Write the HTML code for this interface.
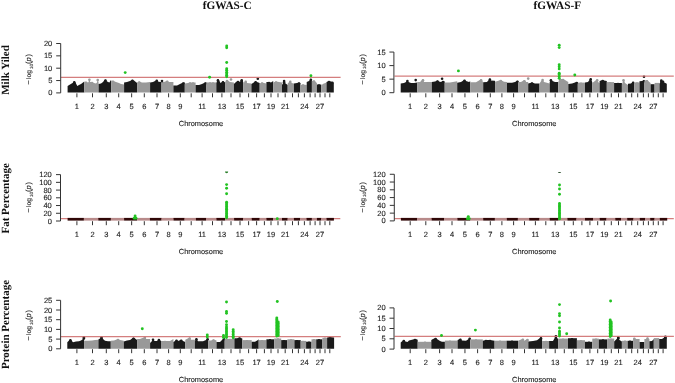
<!DOCTYPE html>
<html><head><meta charset="utf-8"><style>
html,body{margin:0;padding:0;background:#fff;width:675px;height:383px;overflow:hidden}
svg{display:block;will-change:transform;text-rendering:geometricPrecision}
.ti{font-family:"Liberation Serif",serif;font-weight:bold;font-size:11px;fill:#111}
.tt{font-family:"Liberation Serif",serif;font-weight:bold;font-size:11.3px;fill:#111}
.tk{font-family:"Liberation Sans",sans-serif;font-size:7.5px;fill:#1a1a1a;stroke:#222;stroke-width:0.12px}
.ch{font-family:"Liberation Sans",sans-serif;font-size:7.4px;fill:#1a1a1a;stroke:#222;stroke-width:0.12px}
.yl{font-family:"Liberation Sans",sans-serif;font-size:6.7px;fill:#222;stroke:#222;stroke-width:0.1px}
.sub{font-size:4.6px}
</style></head><body>
<svg width="675" height="383" viewBox="0 0 675 383">
<text x="227.3" y="8.8" text-anchor="middle" class="tt">fGWAS-C</text>
<text x="557.3" y="8.8" text-anchor="middle" class="tt">fGWAS-F</text>
<text transform="translate(8.9,70) rotate(-90)" text-anchor="middle" class="ti">Milk Yiled</text>
<text transform="translate(8.9,198.4) rotate(-90)" text-anchor="middle" class="ti">Fat Percentage</text>
<text transform="translate(8.9,324.5) rotate(-90)" text-anchor="middle" class="ti">Protein Percentage</text>
<polygon fill="#1a1a1a" points="67.6,92.6 67.6,86 70,84.5 72.5,83 74.3,81.3 75.5,82.5 77.3,86 79,85 81,84 83,82.5 84.3,81.5 84.3,92.6"/>
<circle cx="74.3" cy="82.4" r="1.3" fill="#1a1a1a"/>
<polygon fill="#999999" points="84.3,92.6 84.3,82 86,81.8 88,82.5 88.6,82 89.4,78.6 90.2,82 92,82 94,83 96,83.5 97,82.5 97.7,79 98.4,82 98.6,82.5 98.6,92.6"/>
<circle cx="86" cy="82.9" r="1.3" fill="#999999"/>
<circle cx="89.4" cy="79.7" r="1.3" fill="#999999"/>
<circle cx="92" cy="83.1" r="1.3" fill="#999999"/>
<circle cx="97.7" cy="80.1" r="1.3" fill="#999999"/>
<polygon fill="#1a1a1a" points="98.6,92.6 98.6,84 101,83.4 103,82 104.5,80 105.5,79.5 106.5,81 108,82 109.5,82.5 110.5,80.5 111.2,80.3 111.2,92.6"/>
<circle cx="105.5" cy="80.6" r="1.3" fill="#1a1a1a"/>
<polygon fill="#999999" points="111.2,92.6 111.2,81 113,80.8 116,82 119,83 121,84 124.1,84.4 124.1,92.6"/>
<circle cx="113" cy="81.9" r="1.3" fill="#999999"/>
<polygon fill="#1a1a1a" points="124.1,92.6 124.1,82.4 127,82 130,81 132.4,79.8 134,80.5 137.1,82.9 137.1,92.6"/>
<circle cx="132.4" cy="80.9" r="1.3" fill="#1a1a1a"/>
<polygon fill="#999999" points="137.1,92.6 137.1,82.4 139.2,81.5 142,82.5 146,82.5 150.1,82 150.1,92.6"/>
<circle cx="139.2" cy="82.6" r="1.3" fill="#999999"/>
<polygon fill="#1a1a1a" points="150.1,92.6 150.1,82.4 153,82 155,81 156.8,79.8 158,81.5 160,82 161.5,82 161.5,92.6"/>
<circle cx="156.8" cy="80.9" r="1.3" fill="#1a1a1a"/>
<polygon fill="#999999" points="161.5,92.6 161.5,82 164,81.9 167.2,80.8 169,82 173.4,82 173.4,92.6"/>
<circle cx="167.2" cy="81.9" r="1.3" fill="#999999"/>
<polygon fill="#1a1a1a" points="173.4,92.6 173.4,85.5 177,85.5 180,84 182,83 183.3,82.4 184.8,82.5 184.8,92.6"/>
<circle cx="183.3" cy="83.5" r="1.3" fill="#1a1a1a"/>
<polygon fill="#999999" points="184.8,92.6 184.8,83.4 188,83 190,82.4 193,82.4 195.6,82.4 195.6,92.6"/>
<circle cx="190" cy="83.5" r="1.3" fill="#999999"/>
<circle cx="193" cy="83.5" r="1.3" fill="#999999"/>
<polygon fill="#1a1a1a" points="195.6,92.6 195.6,85 199,85 202,84 204,83 205.4,82.4 206.4,82.4 206.4,92.6"/>
<circle cx="205.4" cy="83.5" r="1.3" fill="#1a1a1a"/>
<polygon fill="#999999" points="206.4,92.6 206.4,82.4 210,82.4 213,82.4 216.3,82.4 216.3,92.6"/>
<circle cx="210" cy="83.5" r="1.3" fill="#999999"/>
<circle cx="213" cy="83.5" r="1.3" fill="#999999"/>
<polygon fill="#1a1a1a" points="216.3,92.6 216.3,83 217.9,79.3 219,80 220.5,83 222,82 223,81.3 225.1,82.5 225.1,92.6"/>
<circle cx="217.9" cy="80.4" r="1.3" fill="#1a1a1a"/>
<circle cx="223" cy="82.4" r="1.3" fill="#1a1a1a"/>
<polygon fill="#999999" points="225.1,92.6 225.1,82 227,80 230,82 233.9,82.5 233.9,92.6"/>
<circle cx="227" cy="81.1" r="1.3" fill="#999999"/>
<polygon fill="#1a1a1a" points="233.9,92.6 233.9,84 236,82 238,81 240,82 241.7,80.3 243.3,82 243.3,92.6"/>
<circle cx="238" cy="82.1" r="1.3" fill="#1a1a1a"/>
<circle cx="241.7" cy="81.4" r="1.3" fill="#1a1a1a"/>
<polygon fill="#999999" points="243.3,92.6 243.3,83.4 245.7,80.8 247,83 251.4,83.4 251.4,92.6"/>
<circle cx="245.7" cy="81.9" r="1.3" fill="#999999"/>
<polygon fill="#1a1a1a" points="251.4,92.6 251.4,84 253,83 255.6,81.3 257,82 259.7,83 259.7,92.6"/>
<circle cx="255.6" cy="82.4" r="1.3" fill="#1a1a1a"/>
<polygon fill="#999999" points="259.7,92.6 259.7,83.4 262,82.5 266.4,83.4 266.4,92.6"/>
<circle cx="262" cy="83.6" r="1.3" fill="#999999"/>
<polygon fill="#1a1a1a" points="266.4,92.6 266.4,82 269,81.9 271,82.5 273.2,81.1 273.2,92.6"/>
<circle cx="269" cy="83" r="1.3" fill="#1a1a1a"/>
<polygon fill="#999999" points="273.2,92.6 273.2,82.4 276,81.5 279,82 282,82.4 282,92.6"/>
<circle cx="276" cy="82.6" r="1.3" fill="#999999"/>
<polygon fill="#1a1a1a" points="282,92.6 282,85 284.1,81.1 285,83 287.7,85 287.7,92.6"/>
<circle cx="284.1" cy="82.2" r="1.3" fill="#1a1a1a"/>
<polygon fill="#999999" points="287.7,92.6 287.7,83.4 290.3,80.8 291.5,83 293.9,83.4 293.9,92.6"/>
<circle cx="290.3" cy="81.9" r="1.3" fill="#999999"/>
<polygon fill="#1a1a1a" points="293.9,92.6 293.9,83.5 297,83 299,82.4 300.4,83 300.4,92.6"/>
<circle cx="299" cy="83.5" r="1.3" fill="#1a1a1a"/>
<polygon fill="#999999" points="300.4,92.6 300.4,85 303,84.5 306.7,85 306.7,92.6"/>
<circle cx="303" cy="85.6" r="1.3" fill="#999999"/>
<polygon fill="#1a1a1a" points="306.7,92.6 306.7,82 309,81 310.9,78.6 311.9,80.9 311.9,92.6"/>
<circle cx="310.9" cy="79.7" r="1.3" fill="#1a1a1a"/>
<polygon fill="#999999" points="311.9,92.6 311.9,81 314,80.4 316.9,83 316.9,92.6"/>
<circle cx="314" cy="81.5" r="1.3" fill="#999999"/>
<polygon fill="#1a1a1a" points="316.9,92.6 316.9,84.5 319,84.5 321.3,84.5 321.3,92.6"/>
<circle cx="319" cy="85.6" r="1.3" fill="#1a1a1a"/>
<polygon fill="#999999" points="321.3,92.6 321.3,85 324,83.5 326.5,82.5 326.5,92.6"/>
<polygon fill="#1a1a1a" points="326.5,92.6 326.5,82 329,80.9 331,81.5 333.8,82.8 333.8,92.6"/>
<circle cx="329" cy="82" r="1.3" fill="#1a1a1a"/>
<circle cx="162" cy="81.1" r="1.3" fill="#1a1a1a"/>
<circle cx="257.8" cy="78.7" r="1.3" fill="#1a1a1a"/>
<circle cx="241.7" cy="80.3" r="1.3" fill="#1a1a1a"/>
<circle cx="332.3" cy="82.8" r="1.3" fill="#1a1a1a"/>
<circle cx="284.1" cy="81.1" r="1.3" fill="#1a1a1a"/>
<circle cx="231" cy="79.5" r="1.3" fill="#999999"/>
<line x1="61" y1="77.4" x2="340.6" y2="77.4" stroke="#cf7070" stroke-width="1.2" stroke-opacity="0.9"/>
<circle cx="125.2" cy="72.6" r="1.45" fill="#22c322"/>
<circle cx="209.6" cy="77.2" r="1.45" fill="#22c322"/>
<circle cx="310.9" cy="75.7" r="1.45" fill="#22c322"/>
<circle cx="226.7" cy="46" r="1.45" fill="#22c322"/>
<circle cx="226.7" cy="47.8" r="1.45" fill="#22c322"/>
<circle cx="226.7" cy="62.5" r="1.45" fill="#22c322"/>
<circle cx="226.7" cy="68.8" r="1.45" fill="#22c322"/>
<circle cx="226.7" cy="70.2" r="1.45" fill="#22c322"/>
<circle cx="226.7" cy="72.3" r="1.45" fill="#22c322"/>
<circle cx="226.7" cy="73.8" r="1.45" fill="#22c322"/>
<circle cx="226.7" cy="75.3" r="1.45" fill="#22c322"/>
<circle cx="226.7" cy="76.8" r="1.45" fill="#22c322"/>
<line x1="60.7" y1="43.5" x2="60.7" y2="92.9" stroke="#333" stroke-width="1"/>
<line x1="56.2" y1="92.9" x2="60.7" y2="92.9" stroke="#333" stroke-width="1"/>
<text x="52.3" y="95.4" text-anchor="end" class="tk">0</text>
<line x1="56.2" y1="80.55" x2="60.7" y2="80.55" stroke="#333" stroke-width="1"/>
<text x="52.3" y="83.05" text-anchor="end" class="tk">5</text>
<line x1="56.2" y1="68.2" x2="60.7" y2="68.2" stroke="#333" stroke-width="1"/>
<text x="52.3" y="70.7" text-anchor="end" class="tk">10</text>
<line x1="56.2" y1="55.85" x2="60.7" y2="55.85" stroke="#333" stroke-width="1"/>
<text x="52.3" y="58.35" text-anchor="end" class="tk">15</text>
<line x1="56.2" y1="43.5" x2="60.7" y2="43.5" stroke="#333" stroke-width="1"/>
<text x="52.3" y="46" text-anchor="end" class="tk">20</text>
<line x1="76.9" y1="93.3" x2="76.9" y2="97.3" stroke="#333" stroke-width="1"/>
<text x="76.9" y="108.5" text-anchor="middle" class="tk">1</text>
<line x1="92.5" y1="93.3" x2="92.5" y2="97.3" stroke="#333" stroke-width="1"/>
<text x="92.5" y="108.5" text-anchor="middle" class="tk">2</text>
<line x1="106.3" y1="93.3" x2="106.3" y2="97.3" stroke="#333" stroke-width="1"/>
<text x="106.3" y="108.5" text-anchor="middle" class="tk">3</text>
<line x1="118.7" y1="93.3" x2="118.7" y2="97.3" stroke="#333" stroke-width="1"/>
<text x="118.7" y="108.5" text-anchor="middle" class="tk">4</text>
<line x1="131.65" y1="93.3" x2="131.65" y2="97.3" stroke="#333" stroke-width="1"/>
<text x="131.65" y="108.5" text-anchor="middle" class="tk">5</text>
<line x1="144.3" y1="93.3" x2="144.3" y2="97.3" stroke="#333" stroke-width="1"/>
<text x="144.3" y="108.5" text-anchor="middle" class="tk">6</text>
<line x1="157" y1="93.3" x2="157" y2="97.3" stroke="#333" stroke-width="1"/>
<text x="157" y="108.5" text-anchor="middle" class="tk">7</text>
<line x1="168.6" y1="93.3" x2="168.6" y2="97.3" stroke="#333" stroke-width="1"/>
<text x="168.6" y="108.5" text-anchor="middle" class="tk">8</text>
<line x1="180.3" y1="93.3" x2="180.3" y2="97.3" stroke="#333" stroke-width="1"/>
<text x="180.3" y="108.5" text-anchor="middle" class="tk">9</text>
<line x1="191.2" y1="93.3" x2="191.2" y2="97.3" stroke="#333" stroke-width="1"/>
<line x1="202.1" y1="93.3" x2="202.1" y2="97.3" stroke="#333" stroke-width="1"/>
<text x="202.1" y="108.5" text-anchor="middle" class="tk">11</text>
<line x1="212.5" y1="93.3" x2="212.5" y2="97.3" stroke="#333" stroke-width="1"/>
<line x1="221.9" y1="93.3" x2="221.9" y2="97.3" stroke="#333" stroke-width="1"/>
<text x="221.9" y="108.5" text-anchor="middle" class="tk">13</text>
<line x1="231" y1="93.3" x2="231" y2="97.3" stroke="#333" stroke-width="1"/>
<line x1="240" y1="93.3" x2="240" y2="97.3" stroke="#333" stroke-width="1"/>
<text x="240" y="108.5" text-anchor="middle" class="tk">15</text>
<line x1="248.6" y1="93.3" x2="248.6" y2="97.3" stroke="#333" stroke-width="1"/>
<line x1="256.6" y1="93.3" x2="256.6" y2="97.3" stroke="#333" stroke-width="1"/>
<text x="256.6" y="108.5" text-anchor="middle" class="tk">17</text>
<line x1="264.4" y1="93.3" x2="264.4" y2="97.3" stroke="#333" stroke-width="1"/>
<line x1="271" y1="93.3" x2="271" y2="97.3" stroke="#333" stroke-width="1"/>
<text x="271" y="108.5" text-anchor="middle" class="tk">19</text>
<line x1="278" y1="93.3" x2="278" y2="97.3" stroke="#333" stroke-width="1"/>
<line x1="285.2" y1="93.3" x2="285.2" y2="97.3" stroke="#333" stroke-width="1"/>
<text x="285.2" y="108.5" text-anchor="middle" class="tk">21</text>
<line x1="292.5" y1="93.3" x2="292.5" y2="97.3" stroke="#333" stroke-width="1"/>
<line x1="298.4" y1="93.3" x2="298.4" y2="97.3" stroke="#333" stroke-width="1"/>
<line x1="304.4" y1="93.3" x2="304.4" y2="97.3" stroke="#333" stroke-width="1"/>
<text x="304.4" y="108.5" text-anchor="middle" class="tk">24</text>
<line x1="310.1" y1="93.3" x2="310.1" y2="97.3" stroke="#333" stroke-width="1"/>
<line x1="315.1" y1="93.3" x2="315.1" y2="97.3" stroke="#333" stroke-width="1"/>
<line x1="320" y1="93.3" x2="320" y2="97.3" stroke="#333" stroke-width="1"/>
<text x="320" y="108.5" text-anchor="middle" class="tk">27</text>
<line x1="325" y1="93.3" x2="325" y2="97.3" stroke="#333" stroke-width="1"/>
<line x1="329.8" y1="93.3" x2="329.8" y2="97.3" stroke="#333" stroke-width="1"/>
<text x="201" y="125.9" text-anchor="middle" class="ch">Chromosome</text>
<text transform="translate(31.2,84) rotate(-90)" class="yl"><tspan x="-0.4" style="font-size:7.6px">&#8722;</tspan><tspan x="5.0">log</tspan><tspan x="15.0" class="sub" dy="1.3">10</tspan><tspan x="20.1" dy="-1.3" style="font-size:7.6px">(</tspan><tspan x="22.6" font-style="italic" style="font-size:7.6px">p</tspan><tspan x="27.6" style="font-size:7.6px">)</tspan></text>
<polygon fill="#1a1a1a" points="400.7,92.6 400.7,83.5 404,83 406,82 407.4,79.9 408.5,82 411,83 414,83 417.3,82.5 417.3,92.6"/>
<circle cx="407.4" cy="81" r="1.3" fill="#1a1a1a"/>
<polygon fill="#999999" points="417.3,92.6 417.3,81.9 420,82 423,79.1 424,81.9 428,82 431.8,82 431.8,92.6"/>
<circle cx="423" cy="80.2" r="1.3" fill="#999999"/>
<polygon fill="#1a1a1a" points="431.8,92.6 431.8,82 435,81.5 437.5,80.4 439,81.5 441,82 443,81 444.7,81.4 444.7,92.6"/>
<circle cx="437.5" cy="81.5" r="1.3" fill="#1a1a1a"/>
<circle cx="443" cy="82.1" r="1.3" fill="#1a1a1a"/>
<polygon fill="#999999" points="444.7,92.6 444.7,82.4 450,82.4 457.2,81.3 457.2,92.6"/>
<polygon fill="#1a1a1a" points="457.2,92.6 457.2,82.8 461,82 464.5,79.7 466,81 469,82 470.2,81.3 470.2,92.6"/>
<circle cx="464.5" cy="80.8" r="1.3" fill="#1a1a1a"/>
<polygon fill="#999999" points="470.2,92.6 470.2,82.3 476,82.3 481.1,79.2 483.2,82.3 483.2,92.6"/>
<circle cx="481.1" cy="80.3" r="1.3" fill="#999999"/>
<polygon fill="#1a1a1a" points="483.2,92.6 483.2,82.3 487,82 489.9,78.5 491,80.5 494.6,80.7 495.1,81 495.1,92.6"/>
<circle cx="489.9" cy="79.6" r="1.3" fill="#1a1a1a"/>
<polygon fill="#999999" points="495.1,92.6 495.1,81.8 500.8,80 504,81.8 507,82 507,92.6"/>
<circle cx="500.8" cy="81.1" r="1.3" fill="#999999"/>
<polygon fill="#1a1a1a" points="507,92.6 507,82.8 512,82.8 515,82 517.4,80.7 518.4,81 518.4,92.6"/>
<circle cx="517.4" cy="81.8" r="1.3" fill="#1a1a1a"/>
<polygon fill="#999999" points="518.4,92.6 518.4,81.9 521,81.9 524.4,80.1 526,81.9 528.2,81.9 528.2,92.6"/>
<circle cx="524.4" cy="81.2" r="1.3" fill="#999999"/>
<polygon fill="#1a1a1a" points="528.2,92.6 528.2,83.5 532,82.4 535,83.5 539.5,83.5 539.5,92.6"/>
<circle cx="532" cy="83.5" r="1.3" fill="#1a1a1a"/>
<polygon fill="#999999" points="539.5,92.6 539.5,83.5 542.6,78.9 544,82 549.7,83.5 549.7,92.6"/>
<circle cx="542.6" cy="80" r="1.3" fill="#999999"/>
<polygon fill="#1a1a1a" points="549.7,92.6 549.7,82 550.9,79.2 552.5,81 555,82 558.2,82 558.2,92.6"/>
<circle cx="550.9" cy="80.3" r="1.3" fill="#1a1a1a"/>
<polygon fill="#999999" points="558.2,92.6 558.2,82 560,79 563,79 565,80 568.3,82 568.3,92.6"/>
<circle cx="560" cy="80.1" r="1.3" fill="#999999"/>
<circle cx="563" cy="80.1" r="1.3" fill="#999999"/>
<polygon fill="#1a1a1a" points="568.3,92.6 568.3,84.1 572,83.5 575,82.5 576.7,81.9 577.8,82.1 577.8,92.6"/>
<circle cx="576.7" cy="83" r="1.3" fill="#1a1a1a"/>
<polygon fill="#999999" points="577.8,92.6 577.8,82.6 581,82.6 585,82.6 585,92.6"/>
<circle cx="581" cy="83.7" r="1.3" fill="#999999"/>
<polygon fill="#1a1a1a" points="585,92.6 585,82.6 588,82 590.7,78.2 591.5,80 592.3,82.6 592.3,92.6"/>
<circle cx="590.7" cy="79.3" r="1.3" fill="#1a1a1a"/>
<polygon fill="#999999" points="592.3,92.6 592.3,83.1 597.2,79.3 598,82 599.6,83.1 599.6,92.6"/>
<circle cx="597.2" cy="80.4" r="1.3" fill="#999999"/>
<polygon fill="#1a1a1a" points="599.6,92.6 599.6,81 602.7,80 604,80.5 606.8,81 606.8,92.6"/>
<circle cx="602.7" cy="81.1" r="1.3" fill="#1a1a1a"/>
<polygon fill="#999999" points="606.8,92.6 606.8,82.1 610,82.1 614.1,82.1 614.1,92.6"/>
<circle cx="610" cy="83.2" r="1.3" fill="#999999"/>
<polygon fill="#1a1a1a" points="614.1,92.6 614.1,83.1 618,83 621.9,83.1 621.9,92.6"/>
<circle cx="618" cy="84.1" r="1.3" fill="#1a1a1a"/>
<polygon fill="#999999" points="621.9,92.6 621.9,85.1 623.5,79.3 625,83 628,85 628,92.6"/>
<circle cx="623.5" cy="80.4" r="1.3" fill="#999999"/>
<polygon fill="#1a1a1a" points="628,92.6 628,83.7 631,83.5 633.1,81.8 634.2,82.5 634.2,92.6"/>
<circle cx="633.1" cy="82.9" r="1.3" fill="#1a1a1a"/>
<polygon fill="#999999" points="634.2,92.6 634.2,82.4 637,82.4 639.5,82.4 639.5,92.6"/>
<circle cx="637" cy="83.5" r="1.3" fill="#999999"/>
<polygon fill="#1a1a1a" points="639.5,92.6 639.5,81.3 642,81 644,80.2 644.4,80.5 644.4,92.6"/>
<circle cx="644" cy="81.3" r="1.3" fill="#1a1a1a"/>
<polygon fill="#999999" points="644.4,92.6 644.4,80.6 647,80.2 650.6,82.9 650.6,92.6"/>
<circle cx="647" cy="81.3" r="1.3" fill="#999999"/>
<polygon fill="#1a1a1a" points="650.6,92.6 650.6,84.2 654.6,84.2 654.6,92.6"/>
<polygon fill="#999999" points="654.6,92.6 654.6,82.9 659.5,82.9 659.5,92.6"/>
<polygon fill="#1a1a1a" points="659.5,92.6 659.5,83.7 661.3,80.6 663,81.8 666.8,83.7 666.8,92.6"/>
<circle cx="661.3" cy="81.7" r="1.3" fill="#1a1a1a"/>
<circle cx="415.7" cy="80.1" r="1.3" fill="#1a1a1a"/>
<circle cx="442.1" cy="78.8" r="1.3" fill="#1a1a1a"/>
<circle cx="644" cy="76.8" r="1.3" fill="#1a1a1a"/>
<circle cx="661.3" cy="80.6" r="1.3" fill="#1a1a1a"/>
<circle cx="663" cy="81.8" r="1.3" fill="#1a1a1a"/>
<circle cx="528.2" cy="78.6" r="1.3" fill="#999999"/>
<line x1="394.5" y1="76.1" x2="673.8" y2="76.1" stroke="#cf7070" stroke-width="1.2" stroke-opacity="0.9"/>
<circle cx="458.4" cy="70.9" r="1.45" fill="#22c322"/>
<circle cx="574.8" cy="75" r="1.45" fill="#22c322"/>
<circle cx="559.2" cy="45.2" r="1.45" fill="#22c322"/>
<circle cx="559.2" cy="47.6" r="1.45" fill="#22c322"/>
<circle cx="559.2" cy="64.8" r="1.45" fill="#22c322"/>
<circle cx="559.2" cy="66.8" r="1.45" fill="#22c322"/>
<circle cx="559.2" cy="68.9" r="1.45" fill="#22c322"/>
<circle cx="559.2" cy="73.2" r="1.45" fill="#22c322"/>
<circle cx="559.2" cy="74.5" r="1.45" fill="#22c322"/>
<circle cx="559.2" cy="76.5" r="1.45" fill="#22c322"/>
<circle cx="559.2" cy="78.2" r="1.45" fill="#22c322"/>
<line x1="393.9" y1="52.05" x2="393.9" y2="92.7" stroke="#333" stroke-width="1"/>
<line x1="389.4" y1="92.7" x2="393.9" y2="92.7" stroke="#333" stroke-width="1"/>
<text x="385.6" y="95.2" text-anchor="end" class="tk">0</text>
<line x1="389.4" y1="79.15" x2="393.9" y2="79.15" stroke="#333" stroke-width="1"/>
<text x="385.6" y="81.65" text-anchor="end" class="tk">5</text>
<line x1="389.4" y1="65.6" x2="393.9" y2="65.6" stroke="#333" stroke-width="1"/>
<text x="385.6" y="68.1" text-anchor="end" class="tk">10</text>
<line x1="389.4" y1="52.05" x2="393.9" y2="52.05" stroke="#333" stroke-width="1"/>
<text x="385.6" y="54.55" text-anchor="end" class="tk">15</text>
<line x1="410.2" y1="93.3" x2="410.2" y2="97.3" stroke="#333" stroke-width="1"/>
<text x="410.2" y="108.5" text-anchor="middle" class="tk">1</text>
<line x1="425.8" y1="93.3" x2="425.8" y2="97.3" stroke="#333" stroke-width="1"/>
<text x="425.8" y="108.5" text-anchor="middle" class="tk">2</text>
<line x1="439.6" y1="93.3" x2="439.6" y2="97.3" stroke="#333" stroke-width="1"/>
<text x="439.6" y="108.5" text-anchor="middle" class="tk">3</text>
<line x1="452" y1="93.3" x2="452" y2="97.3" stroke="#333" stroke-width="1"/>
<text x="452" y="108.5" text-anchor="middle" class="tk">4</text>
<line x1="464.95" y1="93.3" x2="464.95" y2="97.3" stroke="#333" stroke-width="1"/>
<text x="464.95" y="108.5" text-anchor="middle" class="tk">5</text>
<line x1="477.6" y1="93.3" x2="477.6" y2="97.3" stroke="#333" stroke-width="1"/>
<text x="477.6" y="108.5" text-anchor="middle" class="tk">6</text>
<line x1="490.3" y1="93.3" x2="490.3" y2="97.3" stroke="#333" stroke-width="1"/>
<text x="490.3" y="108.5" text-anchor="middle" class="tk">7</text>
<line x1="501.9" y1="93.3" x2="501.9" y2="97.3" stroke="#333" stroke-width="1"/>
<text x="501.9" y="108.5" text-anchor="middle" class="tk">8</text>
<line x1="513.6" y1="93.3" x2="513.6" y2="97.3" stroke="#333" stroke-width="1"/>
<text x="513.6" y="108.5" text-anchor="middle" class="tk">9</text>
<line x1="524.5" y1="93.3" x2="524.5" y2="97.3" stroke="#333" stroke-width="1"/>
<line x1="535.4" y1="93.3" x2="535.4" y2="97.3" stroke="#333" stroke-width="1"/>
<text x="535.4" y="108.5" text-anchor="middle" class="tk">11</text>
<line x1="545.8" y1="93.3" x2="545.8" y2="97.3" stroke="#333" stroke-width="1"/>
<line x1="555.2" y1="93.3" x2="555.2" y2="97.3" stroke="#333" stroke-width="1"/>
<text x="555.2" y="108.5" text-anchor="middle" class="tk">13</text>
<line x1="564.3" y1="93.3" x2="564.3" y2="97.3" stroke="#333" stroke-width="1"/>
<line x1="573.3" y1="93.3" x2="573.3" y2="97.3" stroke="#333" stroke-width="1"/>
<text x="573.3" y="108.5" text-anchor="middle" class="tk">15</text>
<line x1="581.9" y1="93.3" x2="581.9" y2="97.3" stroke="#333" stroke-width="1"/>
<line x1="589.9" y1="93.3" x2="589.9" y2="97.3" stroke="#333" stroke-width="1"/>
<text x="589.9" y="108.5" text-anchor="middle" class="tk">17</text>
<line x1="597.7" y1="93.3" x2="597.7" y2="97.3" stroke="#333" stroke-width="1"/>
<line x1="604.3" y1="93.3" x2="604.3" y2="97.3" stroke="#333" stroke-width="1"/>
<text x="604.3" y="108.5" text-anchor="middle" class="tk">19</text>
<line x1="611.3" y1="93.3" x2="611.3" y2="97.3" stroke="#333" stroke-width="1"/>
<line x1="618.5" y1="93.3" x2="618.5" y2="97.3" stroke="#333" stroke-width="1"/>
<text x="618.5" y="108.5" text-anchor="middle" class="tk">21</text>
<line x1="625.8" y1="93.3" x2="625.8" y2="97.3" stroke="#333" stroke-width="1"/>
<line x1="631.7" y1="93.3" x2="631.7" y2="97.3" stroke="#333" stroke-width="1"/>
<line x1="637.7" y1="93.3" x2="637.7" y2="97.3" stroke="#333" stroke-width="1"/>
<text x="637.7" y="108.5" text-anchor="middle" class="tk">24</text>
<line x1="643.4" y1="93.3" x2="643.4" y2="97.3" stroke="#333" stroke-width="1"/>
<line x1="648.4" y1="93.3" x2="648.4" y2="97.3" stroke="#333" stroke-width="1"/>
<line x1="653.3" y1="93.3" x2="653.3" y2="97.3" stroke="#333" stroke-width="1"/>
<text x="653.3" y="108.5" text-anchor="middle" class="tk">27</text>
<line x1="658.3" y1="93.3" x2="658.3" y2="97.3" stroke="#333" stroke-width="1"/>
<line x1="663.1" y1="93.3" x2="663.1" y2="97.3" stroke="#333" stroke-width="1"/>
<text x="534.3" y="125.9" text-anchor="middle" class="ch">Chromosome</text>
<text transform="translate(364.8,84) rotate(-90)" class="yl"><tspan x="-0.4" style="font-size:7.6px">&#8722;</tspan><tspan x="5.0">log</tspan><tspan x="15.0" class="sub" dy="1.3">10</tspan><tspan x="20.1" dy="-1.3" style="font-size:7.6px">(</tspan><tspan x="22.6" font-style="italic" style="font-size:7.6px">p</tspan><tspan x="27.6" style="font-size:7.6px">)</tspan></text>
<line x1="61" y1="218.6" x2="340.3" y2="218.6" stroke="#cf7070" stroke-width="1.2" stroke-opacity="0.9"/>
<rect x="67.6" y="217.9" width="16.3" height="2.7" fill="#300707"/>
<rect x="83.9" y="217.9" width="14.4" height="2.7" fill="#b88a8a"/>
<rect x="98.3" y="217.9" width="12.6" height="2.7" fill="#300707"/>
<rect x="110.9" y="217.9" width="13.2" height="2.7" fill="#b88a8a"/>
<rect x="124.1" y="217.9" width="13" height="2.7" fill="#300707"/>
<rect x="137.1" y="217.9" width="12.8" height="2.7" fill="#b88a8a"/>
<rect x="149.9" y="217.9" width="11.7" height="2.7" fill="#300707"/>
<rect x="161.6" y="217.9" width="11.9" height="2.7" fill="#b88a8a"/>
<rect x="173.5" y="217.9" width="11.1" height="2.7" fill="#300707"/>
<rect x="184.6" y="217.9" width="11.3" height="2.7" fill="#b88a8a"/>
<rect x="195.9" y="217.9" width="10.3" height="2.7" fill="#300707"/>
<rect x="206.2" y="217.9" width="10.2" height="2.7" fill="#b88a8a"/>
<rect x="216.4" y="217.9" width="8.9" height="2.7" fill="#300707"/>
<rect x="225.3" y="217.9" width="8.8" height="2.7" fill="#b88a8a"/>
<rect x="234.1" y="217.9" width="9.1" height="2.7" fill="#300707"/>
<rect x="243.2" y="217.9" width="8.5" height="2.7" fill="#b88a8a"/>
<rect x="251.7" y="217.9" width="8" height="2.7" fill="#300707"/>
<rect x="259.7" y="217.9" width="6.7" height="2.7" fill="#b88a8a"/>
<rect x="266.4" y="217.9" width="6.8" height="2.7" fill="#300707"/>
<rect x="273.2" y="217.9" width="8.8" height="2.7" fill="#b88a8a"/>
<rect x="282" y="217.9" width="5.7" height="2.7" fill="#300707"/>
<rect x="287.7" y="217.9" width="6.2" height="2.7" fill="#b88a8a"/>
<rect x="293.9" y="217.9" width="6.3" height="2.7" fill="#300707"/>
<rect x="300.2" y="217.9" width="6.3" height="2.7" fill="#b88a8a"/>
<rect x="306.5" y="217.9" width="5.4" height="2.7" fill="#300707"/>
<rect x="311.9" y="217.9" width="5" height="2.7" fill="#b88a8a"/>
<rect x="316.9" y="217.9" width="4.4" height="2.7" fill="#300707"/>
<rect x="321.3" y="217.9" width="5.2" height="2.7" fill="#b88a8a"/>
<rect x="326.5" y="217.9" width="7.4" height="2.7" fill="#300707"/>
<path d="M225,171.6 A1.6,1.6 0 0 0 228.2,171.6 Z" fill="#2a7f2a"/>
<circle cx="226.6" cy="184.6" r="1.45" fill="#22c322"/>
<circle cx="226.6" cy="188.2" r="1.45" fill="#22c322"/>
<circle cx="226.6" cy="193.7" r="1.45" fill="#22c322"/>
<circle cx="226.6" cy="202.3" r="1.45" fill="#22c322"/>
<circle cx="226.6" cy="203.7" r="1.45" fill="#22c322"/>
<circle cx="226.6" cy="205.1" r="1.45" fill="#22c322"/>
<circle cx="226.6" cy="206.5" r="1.45" fill="#22c322"/>
<circle cx="226.6" cy="207.9" r="1.45" fill="#22c322"/>
<circle cx="226.6" cy="209.3" r="1.45" fill="#22c322"/>
<circle cx="226.6" cy="210.7" r="1.45" fill="#22c322"/>
<circle cx="226.6" cy="212.1" r="1.45" fill="#22c322"/>
<circle cx="226.6" cy="213.5" r="1.45" fill="#22c322"/>
<circle cx="226.6" cy="214.9" r="1.45" fill="#22c322"/>
<circle cx="226.6" cy="216.3" r="1.45" fill="#22c322"/>
<circle cx="226.6" cy="217.7" r="1.45" fill="#22c322"/>
<circle cx="135.1" cy="215.9" r="1.45" fill="#22c322"/>
<circle cx="134.2" cy="218.3" r="1.45" fill="#22c322"/>
<circle cx="136" cy="218.3" r="1.45" fill="#22c322"/>
<circle cx="277.3" cy="218.7" r="1.45" fill="#22c322"/>
<line x1="60.5" y1="174.62" x2="60.5" y2="221" stroke="#333" stroke-width="1"/>
<line x1="56" y1="221" x2="60.5" y2="221" stroke="#333" stroke-width="1"/>
<text x="51.8" y="223.5" text-anchor="end" class="tk">0</text>
<line x1="56" y1="213.27" x2="60.5" y2="213.27" stroke="#333" stroke-width="1"/>
<text x="51.8" y="215.77" text-anchor="end" class="tk">20</text>
<line x1="56" y1="205.54" x2="60.5" y2="205.54" stroke="#333" stroke-width="1"/>
<text x="51.8" y="208.04" text-anchor="end" class="tk">40</text>
<line x1="56" y1="197.81" x2="60.5" y2="197.81" stroke="#333" stroke-width="1"/>
<text x="51.8" y="200.31" text-anchor="end" class="tk">60</text>
<line x1="56" y1="190.08" x2="60.5" y2="190.08" stroke="#333" stroke-width="1"/>
<text x="51.8" y="192.58" text-anchor="end" class="tk">80</text>
<line x1="56" y1="182.35" x2="60.5" y2="182.35" stroke="#333" stroke-width="1"/>
<text x="51.8" y="184.85" text-anchor="end" class="tk">100</text>
<line x1="56" y1="174.62" x2="60.5" y2="174.62" stroke="#333" stroke-width="1"/>
<text x="51.8" y="177.12" text-anchor="end" class="tk">120</text>
<line x1="76.9" y1="221.2" x2="76.9" y2="225.2" stroke="#333" stroke-width="1"/>
<text x="76.9" y="236.7" text-anchor="middle" class="tk">1</text>
<line x1="92.5" y1="221.2" x2="92.5" y2="225.2" stroke="#333" stroke-width="1"/>
<text x="92.5" y="236.7" text-anchor="middle" class="tk">2</text>
<line x1="106.3" y1="221.2" x2="106.3" y2="225.2" stroke="#333" stroke-width="1"/>
<text x="106.3" y="236.7" text-anchor="middle" class="tk">3</text>
<line x1="118.7" y1="221.2" x2="118.7" y2="225.2" stroke="#333" stroke-width="1"/>
<text x="118.7" y="236.7" text-anchor="middle" class="tk">4</text>
<line x1="131.65" y1="221.2" x2="131.65" y2="225.2" stroke="#333" stroke-width="1"/>
<text x="131.65" y="236.7" text-anchor="middle" class="tk">5</text>
<line x1="144.3" y1="221.2" x2="144.3" y2="225.2" stroke="#333" stroke-width="1"/>
<text x="144.3" y="236.7" text-anchor="middle" class="tk">6</text>
<line x1="157" y1="221.2" x2="157" y2="225.2" stroke="#333" stroke-width="1"/>
<text x="157" y="236.7" text-anchor="middle" class="tk">7</text>
<line x1="168.6" y1="221.2" x2="168.6" y2="225.2" stroke="#333" stroke-width="1"/>
<text x="168.6" y="236.7" text-anchor="middle" class="tk">8</text>
<line x1="180.3" y1="221.2" x2="180.3" y2="225.2" stroke="#333" stroke-width="1"/>
<text x="180.3" y="236.7" text-anchor="middle" class="tk">9</text>
<line x1="191.2" y1="221.2" x2="191.2" y2="225.2" stroke="#333" stroke-width="1"/>
<line x1="202.1" y1="221.2" x2="202.1" y2="225.2" stroke="#333" stroke-width="1"/>
<text x="202.1" y="236.7" text-anchor="middle" class="tk">11</text>
<line x1="212.5" y1="221.2" x2="212.5" y2="225.2" stroke="#333" stroke-width="1"/>
<line x1="221.9" y1="221.2" x2="221.9" y2="225.2" stroke="#333" stroke-width="1"/>
<text x="221.9" y="236.7" text-anchor="middle" class="tk">13</text>
<line x1="231" y1="221.2" x2="231" y2="225.2" stroke="#333" stroke-width="1"/>
<line x1="240" y1="221.2" x2="240" y2="225.2" stroke="#333" stroke-width="1"/>
<text x="240" y="236.7" text-anchor="middle" class="tk">15</text>
<line x1="248.6" y1="221.2" x2="248.6" y2="225.2" stroke="#333" stroke-width="1"/>
<line x1="256.6" y1="221.2" x2="256.6" y2="225.2" stroke="#333" stroke-width="1"/>
<text x="256.6" y="236.7" text-anchor="middle" class="tk">17</text>
<line x1="264.4" y1="221.2" x2="264.4" y2="225.2" stroke="#333" stroke-width="1"/>
<line x1="271" y1="221.2" x2="271" y2="225.2" stroke="#333" stroke-width="1"/>
<text x="271" y="236.7" text-anchor="middle" class="tk">19</text>
<line x1="278" y1="221.2" x2="278" y2="225.2" stroke="#333" stroke-width="1"/>
<line x1="285.2" y1="221.2" x2="285.2" y2="225.2" stroke="#333" stroke-width="1"/>
<text x="285.2" y="236.7" text-anchor="middle" class="tk">21</text>
<line x1="292.5" y1="221.2" x2="292.5" y2="225.2" stroke="#333" stroke-width="1"/>
<line x1="298.4" y1="221.2" x2="298.4" y2="225.2" stroke="#333" stroke-width="1"/>
<line x1="304.4" y1="221.2" x2="304.4" y2="225.2" stroke="#333" stroke-width="1"/>
<text x="304.4" y="236.7" text-anchor="middle" class="tk">24</text>
<line x1="310.1" y1="221.2" x2="310.1" y2="225.2" stroke="#333" stroke-width="1"/>
<line x1="315.1" y1="221.2" x2="315.1" y2="225.2" stroke="#333" stroke-width="1"/>
<line x1="320" y1="221.2" x2="320" y2="225.2" stroke="#333" stroke-width="1"/>
<text x="320" y="236.7" text-anchor="middle" class="tk">27</text>
<line x1="325" y1="221.2" x2="325" y2="225.2" stroke="#333" stroke-width="1"/>
<line x1="329.8" y1="221.2" x2="329.8" y2="225.2" stroke="#333" stroke-width="1"/>
<text x="201" y="253.9" text-anchor="middle" class="ch">Chromosome</text>
<text transform="translate(31.2,212) rotate(-90)" class="yl"><tspan x="-0.4" style="font-size:7.6px">&#8722;</tspan><tspan x="5.0">log</tspan><tspan x="15.0" class="sub" dy="1.3">10</tspan><tspan x="20.1" dy="-1.3" style="font-size:7.6px">(</tspan><tspan x="22.6" font-style="italic" style="font-size:7.6px">p</tspan><tspan x="27.6" style="font-size:7.6px">)</tspan></text>
<line x1="394.5" y1="218.6" x2="673.8" y2="218.6" stroke="#cf7070" stroke-width="1.2" stroke-opacity="0.9"/>
<rect x="400.9" y="217.9" width="16.3" height="2.7" fill="#300707"/>
<rect x="417.2" y="217.9" width="14.4" height="2.7" fill="#b88a8a"/>
<rect x="431.6" y="217.9" width="12.6" height="2.7" fill="#300707"/>
<rect x="444.2" y="217.9" width="13.2" height="2.7" fill="#b88a8a"/>
<rect x="457.4" y="217.9" width="13" height="2.7" fill="#300707"/>
<rect x="470.4" y="217.9" width="12.8" height="2.7" fill="#b88a8a"/>
<rect x="483.2" y="217.9" width="11.7" height="2.7" fill="#300707"/>
<rect x="494.9" y="217.9" width="11.9" height="2.7" fill="#b88a8a"/>
<rect x="506.8" y="217.9" width="11.1" height="2.7" fill="#300707"/>
<rect x="517.9" y="217.9" width="11.3" height="2.7" fill="#b88a8a"/>
<rect x="529.2" y="217.9" width="10.3" height="2.7" fill="#300707"/>
<rect x="539.5" y="217.9" width="10.2" height="2.7" fill="#b88a8a"/>
<rect x="549.7" y="217.9" width="8.9" height="2.7" fill="#300707"/>
<rect x="558.6" y="217.9" width="8.8" height="2.7" fill="#b88a8a"/>
<rect x="567.4" y="217.9" width="9.1" height="2.7" fill="#300707"/>
<rect x="576.5" y="217.9" width="8.5" height="2.7" fill="#b88a8a"/>
<rect x="585" y="217.9" width="8" height="2.7" fill="#300707"/>
<rect x="593" y="217.9" width="6.7" height="2.7" fill="#b88a8a"/>
<rect x="599.7" y="217.9" width="6.8" height="2.7" fill="#300707"/>
<rect x="606.5" y="217.9" width="8.8" height="2.7" fill="#b88a8a"/>
<rect x="615.3" y="217.9" width="5.7" height="2.7" fill="#300707"/>
<rect x="621" y="217.9" width="6.2" height="2.7" fill="#b88a8a"/>
<rect x="627.2" y="217.9" width="6.3" height="2.7" fill="#300707"/>
<rect x="633.5" y="217.9" width="6.3" height="2.7" fill="#b88a8a"/>
<rect x="639.8" y="217.9" width="5.4" height="2.7" fill="#300707"/>
<rect x="645.2" y="217.9" width="5" height="2.7" fill="#b88a8a"/>
<rect x="650.2" y="217.9" width="4.4" height="2.7" fill="#300707"/>
<rect x="654.6" y="217.9" width="5.2" height="2.7" fill="#b88a8a"/>
<rect x="659.8" y="217.9" width="7.4" height="2.7" fill="#300707"/>
<path d="M557.9,171.9 A1.6,1.1 0 0 0 561.1,171.9 Z" fill="#2e4f2e"/>
<circle cx="559.5" cy="185" r="1.45" fill="#22c322"/>
<circle cx="559.5" cy="189" r="1.45" fill="#22c322"/>
<circle cx="559.5" cy="194.3" r="1.45" fill="#22c322"/>
<circle cx="559.5" cy="203.5" r="1.45" fill="#22c322"/>
<circle cx="559.5" cy="204.9" r="1.45" fill="#22c322"/>
<circle cx="559.5" cy="206.3" r="1.45" fill="#22c322"/>
<circle cx="559.5" cy="207.7" r="1.45" fill="#22c322"/>
<circle cx="559.5" cy="209.1" r="1.45" fill="#22c322"/>
<circle cx="559.5" cy="210.5" r="1.45" fill="#22c322"/>
<circle cx="559.5" cy="211.9" r="1.45" fill="#22c322"/>
<circle cx="559.5" cy="213.3" r="1.45" fill="#22c322"/>
<circle cx="559.5" cy="214.7" r="1.45" fill="#22c322"/>
<circle cx="559.5" cy="216.1" r="1.45" fill="#22c322"/>
<circle cx="559.5" cy="217.5" r="1.45" fill="#22c322"/>
<circle cx="559.5" cy="218.9" r="1.45" fill="#22c322"/>
<circle cx="468.3" cy="216.6" r="1.45" fill="#22c322"/>
<circle cx="467.4" cy="218.7" r="1.45" fill="#22c322"/>
<circle cx="469.2" cy="218.7" r="1.45" fill="#22c322"/>
<line x1="394.3" y1="174.27" x2="394.3" y2="220.9" stroke="#333" stroke-width="1"/>
<line x1="389.8" y1="220.9" x2="394.3" y2="220.9" stroke="#333" stroke-width="1"/>
<text x="385.6" y="223.4" text-anchor="end" class="tk">0</text>
<line x1="389.8" y1="213.13" x2="394.3" y2="213.13" stroke="#333" stroke-width="1"/>
<text x="385.6" y="215.63" text-anchor="end" class="tk">20</text>
<line x1="389.8" y1="205.36" x2="394.3" y2="205.36" stroke="#333" stroke-width="1"/>
<text x="385.6" y="207.86" text-anchor="end" class="tk">40</text>
<line x1="389.8" y1="197.58" x2="394.3" y2="197.58" stroke="#333" stroke-width="1"/>
<text x="385.6" y="200.08" text-anchor="end" class="tk">60</text>
<line x1="389.8" y1="189.81" x2="394.3" y2="189.81" stroke="#333" stroke-width="1"/>
<text x="385.6" y="192.31" text-anchor="end" class="tk">80</text>
<line x1="389.8" y1="182.04" x2="394.3" y2="182.04" stroke="#333" stroke-width="1"/>
<text x="385.6" y="184.54" text-anchor="end" class="tk">100</text>
<line x1="389.8" y1="174.27" x2="394.3" y2="174.27" stroke="#333" stroke-width="1"/>
<text x="385.6" y="176.77" text-anchor="end" class="tk">120</text>
<line x1="410.2" y1="221.2" x2="410.2" y2="225.2" stroke="#333" stroke-width="1"/>
<text x="410.2" y="236.7" text-anchor="middle" class="tk">1</text>
<line x1="425.8" y1="221.2" x2="425.8" y2="225.2" stroke="#333" stroke-width="1"/>
<text x="425.8" y="236.7" text-anchor="middle" class="tk">2</text>
<line x1="439.6" y1="221.2" x2="439.6" y2="225.2" stroke="#333" stroke-width="1"/>
<text x="439.6" y="236.7" text-anchor="middle" class="tk">3</text>
<line x1="452" y1="221.2" x2="452" y2="225.2" stroke="#333" stroke-width="1"/>
<text x="452" y="236.7" text-anchor="middle" class="tk">4</text>
<line x1="464.95" y1="221.2" x2="464.95" y2="225.2" stroke="#333" stroke-width="1"/>
<text x="464.95" y="236.7" text-anchor="middle" class="tk">5</text>
<line x1="477.6" y1="221.2" x2="477.6" y2="225.2" stroke="#333" stroke-width="1"/>
<text x="477.6" y="236.7" text-anchor="middle" class="tk">6</text>
<line x1="490.3" y1="221.2" x2="490.3" y2="225.2" stroke="#333" stroke-width="1"/>
<text x="490.3" y="236.7" text-anchor="middle" class="tk">7</text>
<line x1="501.9" y1="221.2" x2="501.9" y2="225.2" stroke="#333" stroke-width="1"/>
<text x="501.9" y="236.7" text-anchor="middle" class="tk">8</text>
<line x1="513.6" y1="221.2" x2="513.6" y2="225.2" stroke="#333" stroke-width="1"/>
<text x="513.6" y="236.7" text-anchor="middle" class="tk">9</text>
<line x1="524.5" y1="221.2" x2="524.5" y2="225.2" stroke="#333" stroke-width="1"/>
<line x1="535.4" y1="221.2" x2="535.4" y2="225.2" stroke="#333" stroke-width="1"/>
<text x="535.4" y="236.7" text-anchor="middle" class="tk">11</text>
<line x1="545.8" y1="221.2" x2="545.8" y2="225.2" stroke="#333" stroke-width="1"/>
<line x1="555.2" y1="221.2" x2="555.2" y2="225.2" stroke="#333" stroke-width="1"/>
<text x="555.2" y="236.7" text-anchor="middle" class="tk">13</text>
<line x1="564.3" y1="221.2" x2="564.3" y2="225.2" stroke="#333" stroke-width="1"/>
<line x1="573.3" y1="221.2" x2="573.3" y2="225.2" stroke="#333" stroke-width="1"/>
<text x="573.3" y="236.7" text-anchor="middle" class="tk">15</text>
<line x1="581.9" y1="221.2" x2="581.9" y2="225.2" stroke="#333" stroke-width="1"/>
<line x1="589.9" y1="221.2" x2="589.9" y2="225.2" stroke="#333" stroke-width="1"/>
<text x="589.9" y="236.7" text-anchor="middle" class="tk">17</text>
<line x1="597.7" y1="221.2" x2="597.7" y2="225.2" stroke="#333" stroke-width="1"/>
<line x1="604.3" y1="221.2" x2="604.3" y2="225.2" stroke="#333" stroke-width="1"/>
<text x="604.3" y="236.7" text-anchor="middle" class="tk">19</text>
<line x1="611.3" y1="221.2" x2="611.3" y2="225.2" stroke="#333" stroke-width="1"/>
<line x1="618.5" y1="221.2" x2="618.5" y2="225.2" stroke="#333" stroke-width="1"/>
<text x="618.5" y="236.7" text-anchor="middle" class="tk">21</text>
<line x1="625.8" y1="221.2" x2="625.8" y2="225.2" stroke="#333" stroke-width="1"/>
<line x1="631.7" y1="221.2" x2="631.7" y2="225.2" stroke="#333" stroke-width="1"/>
<line x1="637.7" y1="221.2" x2="637.7" y2="225.2" stroke="#333" stroke-width="1"/>
<text x="637.7" y="236.7" text-anchor="middle" class="tk">24</text>
<line x1="643.4" y1="221.2" x2="643.4" y2="225.2" stroke="#333" stroke-width="1"/>
<line x1="648.4" y1="221.2" x2="648.4" y2="225.2" stroke="#333" stroke-width="1"/>
<line x1="653.3" y1="221.2" x2="653.3" y2="225.2" stroke="#333" stroke-width="1"/>
<text x="653.3" y="236.7" text-anchor="middle" class="tk">27</text>
<line x1="658.3" y1="221.2" x2="658.3" y2="225.2" stroke="#333" stroke-width="1"/>
<line x1="663.1" y1="221.2" x2="663.1" y2="225.2" stroke="#333" stroke-width="1"/>
<text x="534.3" y="253.9" text-anchor="middle" class="ch">Chromosome</text>
<text transform="translate(364.8,212) rotate(-90)" class="yl"><tspan x="-0.4" style="font-size:7.6px">&#8722;</tspan><tspan x="5.0">log</tspan><tspan x="15.0" class="sub" dy="1.3">10</tspan><tspan x="20.1" dy="-1.3" style="font-size:7.6px">(</tspan><tspan x="22.6" font-style="italic" style="font-size:7.6px">p</tspan><tspan x="27.6" style="font-size:7.6px">)</tspan></text>
<polygon fill="#1a1a1a" points="67.3,348.7 67.3,342.3 69,340.5 70.4,339.2 71.5,340.5 73,342.3 76,341.5 79,341.3 81,340.5 83,339 83.9,337.4 84.1,338 84.1,348.7"/>
<circle cx="70.4" cy="340.3" r="1.3" fill="#1a1a1a"/>
<circle cx="83.9" cy="338.5" r="1.3" fill="#1a1a1a"/>
<polygon fill="#999999" points="84.1,348.7 84.1,340.7 88,340.7 92,340.5 95,340 98.4,339.7 98.4,348.7"/>
<polygon fill="#1a1a1a" points="98.4,348.7 98.4,339.5 100,338.5 101.5,337.6 103,339 105,340.7 108,341.3 110.8,341.3 110.8,348.7"/>
<circle cx="101.5" cy="338.7" r="1.3" fill="#1a1a1a"/>
<polygon fill="#999999" points="110.8,348.7 110.8,340.7 114,340.5 118,339 120,340 123.8,340.7 123.8,348.7"/>
<circle cx="118" cy="340.1" r="1.3" fill="#999999"/>
<polygon fill="#1a1a1a" points="123.8,348.7 123.8,341.4 127,340.5 130,340 133.5,337.6 135,338.5 137.1,339.9 137.1,348.7"/>
<circle cx="133.5" cy="338.7" r="1.3" fill="#1a1a1a"/>
<polygon fill="#999999" points="137.1,348.7 137.1,338.9 140,339 144.9,337 146,338.9 150.1,338.9 150.1,348.7"/>
<circle cx="144.9" cy="338.1" r="1.3" fill="#999999"/>
<polygon fill="#1a1a1a" points="150.1,348.7 150.1,343 152,341 153,338.6 154.5,341 157,341 158.9,338.9 160,340 161,341 161,348.7"/>
<circle cx="153" cy="339.7" r="1.3" fill="#1a1a1a"/>
<circle cx="158.9" cy="340" r="1.3" fill="#1a1a1a"/>
<polygon fill="#999999" points="161,348.7 161,340.9 165,340.9 170,340.9 173.4,339 173.4,348.7"/>
<circle cx="165" cy="342" r="1.3" fill="#999999"/>
<polygon fill="#1a1a1a" points="173.4,348.7 173.4,342 175,341 176.5,339.7 178,341 181.2,339.7 183,341 185.3,342 185.3,348.7"/>
<circle cx="176.5" cy="340.8" r="1.3" fill="#1a1a1a"/>
<circle cx="181.2" cy="340.8" r="1.3" fill="#1a1a1a"/>
<polygon fill="#999999" points="185.3,348.7 185.3,339.7 189.7,337.4 191,339.7 194.9,339.7 194.9,348.7"/>
<circle cx="189.7" cy="338.5" r="1.3" fill="#999999"/>
<polygon fill="#1a1a1a" points="194.9,348.7 194.9,341 196.4,338.2 198,341.2 203,341.2 206,340 207.6,338.2 208.3,339 208.3,348.7"/>
<circle cx="196.4" cy="339.3" r="1.3" fill="#1a1a1a"/>
<circle cx="207.6" cy="339.3" r="1.3" fill="#1a1a1a"/>
<polygon fill="#999999" points="208.3,348.7 208.3,340.4 211,340.4 213.5,339.4 216.5,340.4 216.5,348.7"/>
<circle cx="213.5" cy="340.5" r="1.3" fill="#999999"/>
<polygon fill="#1a1a1a" points="216.5,348.7 216.5,341.9 220,341.9 222,340 224,338.2 224.7,338.5 224.7,348.7"/>
<circle cx="224" cy="339.3" r="1.3" fill="#1a1a1a"/>
<polygon fill="#999999" points="224.7,348.7 224.7,338.9 230,338.9 234.4,338.9 234.4,348.7"/>
<circle cx="230" cy="340" r="1.3" fill="#999999"/>
<polygon fill="#1a1a1a" points="234.4,348.7 234.4,338.2 237,338.2 239.6,337.4 242.3,338.5 242.3,348.7"/>
<circle cx="239.6" cy="338.5" r="1.3" fill="#1a1a1a"/>
<polygon fill="#999999" points="242.3,348.7 242.3,340.1 247,340.1 251.7,340.1 251.7,348.7"/>
<circle cx="247" cy="341.2" r="1.3" fill="#999999"/>
<polygon fill="#1a1a1a" points="251.7,348.7 251.7,341.7 255,341.7 258,340 258.7,339.3 258.7,348.7"/>
<polygon fill="#999999" points="258.7,348.7 258.7,340.1 262,340.1 266.4,340.1 266.4,348.7"/>
<circle cx="262" cy="341.2" r="1.3" fill="#999999"/>
<polygon fill="#1a1a1a" points="266.4,348.7 266.4,339.3 270,339.3 274.2,339.3 274.2,348.7"/>
<circle cx="270" cy="340.4" r="1.3" fill="#1a1a1a"/>
<polygon fill="#999999" points="274.2,348.7 274.2,338.5 278,338.5 281.2,338.5 281.2,348.7"/>
<circle cx="278" cy="339.6" r="1.3" fill="#999999"/>
<polygon fill="#1a1a1a" points="281.2,348.7 281.2,340.1 284,340.1 287.4,340.1 287.4,348.7"/>
<circle cx="284" cy="341.2" r="1.3" fill="#1a1a1a"/>
<polygon fill="#999999" points="287.4,348.7 287.4,339.3 291,339.3 294.4,339.3 294.4,348.7"/>
<circle cx="291" cy="340.4" r="1.3" fill="#999999"/>
<polygon fill="#1a1a1a" points="294.4,348.7 294.4,340.1 297,340.1 300.7,340.1 300.7,348.7"/>
<circle cx="297" cy="341.2" r="1.3" fill="#1a1a1a"/>
<polygon fill="#999999" points="300.7,348.7 300.7,340.9 303,340.9 306.1,340.9 306.1,348.7"/>
<circle cx="303" cy="342" r="1.3" fill="#999999"/>
<polygon fill="#1a1a1a" points="306.1,348.7 306.1,341.7 309,341.7 311.5,341.7 311.5,348.7"/>
<circle cx="309" cy="342.8" r="1.3" fill="#1a1a1a"/>
<polygon fill="#999999" points="311.5,348.7 311.5,339.3 314,339.3 316.2,339.3 316.2,348.7"/>
<circle cx="314" cy="340.4" r="1.3" fill="#999999"/>
<polygon fill="#1a1a1a" points="316.2,348.7 316.2,339.3 319,339.3 322.4,339.3 322.4,348.7"/>
<circle cx="319" cy="340.4" r="1.3" fill="#1a1a1a"/>
<polygon fill="#999999" points="322.4,348.7 322.4,337.8 325,337.8 327.1,337.8 327.1,348.7"/>
<circle cx="325" cy="338.9" r="1.3" fill="#999999"/>
<polygon fill="#1a1a1a" points="327.1,348.7 327.1,337.5 330,337 334.1,337.5 334.1,348.7"/>
<circle cx="330" cy="338.1" r="1.3" fill="#1a1a1a"/>
<circle cx="83.9" cy="337.4" r="1.3" fill="#1a1a1a"/>
<circle cx="101.5" cy="337.6" r="1.3" fill="#1a1a1a"/>
<line x1="61" y1="336.7" x2="340.8" y2="336.7" stroke="#cf7070" stroke-width="1.2" stroke-opacity="0.9"/>
<circle cx="142.3" cy="328.7" r="1.45" fill="#22c322"/>
<circle cx="207.3" cy="335" r="1.45" fill="#22c322"/>
<circle cx="207.3" cy="337" r="1.45" fill="#22c322"/>
<circle cx="226.5" cy="302" r="1.45" fill="#22c322"/>
<circle cx="226.5" cy="311.4" r="1.45" fill="#22c322"/>
<circle cx="226.5" cy="313.2" r="1.45" fill="#22c322"/>
<circle cx="226.5" cy="321.5" r="1.45" fill="#22c322"/>
<circle cx="226.5" cy="324.8" r="1.45" fill="#22c322"/>
<circle cx="226.5" cy="327" r="1.45" fill="#22c322"/>
<circle cx="226.5" cy="328.5" r="1.45" fill="#22c322"/>
<circle cx="226.5" cy="330" r="1.45" fill="#22c322"/>
<circle cx="226.5" cy="331.5" r="1.45" fill="#22c322"/>
<circle cx="226.5" cy="333" r="1.45" fill="#22c322"/>
<circle cx="226.5" cy="334.5" r="1.45" fill="#22c322"/>
<circle cx="226.5" cy="336" r="1.45" fill="#22c322"/>
<circle cx="226.5" cy="337.5" r="1.45" fill="#22c322"/>
<circle cx="223.5" cy="335.5" r="1.45" fill="#22c322"/>
<circle cx="223.5" cy="337.5" r="1.45" fill="#22c322"/>
<circle cx="233.2" cy="329.8" r="1.45" fill="#22c322"/>
<circle cx="233.2" cy="331.4" r="1.45" fill="#22c322"/>
<circle cx="233.2" cy="333" r="1.45" fill="#22c322"/>
<circle cx="233.2" cy="334.6" r="1.45" fill="#22c322"/>
<circle cx="233.2" cy="336.2" r="1.45" fill="#22c322"/>
<circle cx="233.2" cy="337.8" r="1.45" fill="#22c322"/>
<circle cx="277.3" cy="301.5" r="1.45" fill="#22c322"/>
<circle cx="276.8" cy="318" r="1.45" fill="#22c322"/>
<circle cx="276.8" cy="319.5" r="1.45" fill="#22c322"/>
<circle cx="276.8" cy="321" r="1.45" fill="#22c322"/>
<circle cx="276.8" cy="322.5" r="1.45" fill="#22c322"/>
<circle cx="276.8" cy="324" r="1.45" fill="#22c322"/>
<circle cx="276.8" cy="325.5" r="1.45" fill="#22c322"/>
<circle cx="276.8" cy="327" r="1.45" fill="#22c322"/>
<circle cx="276.8" cy="328.5" r="1.45" fill="#22c322"/>
<circle cx="276.8" cy="330" r="1.45" fill="#22c322"/>
<circle cx="276.8" cy="331.5" r="1.45" fill="#22c322"/>
<circle cx="276.8" cy="333" r="1.45" fill="#22c322"/>
<circle cx="276.8" cy="334.5" r="1.45" fill="#22c322"/>
<circle cx="276.8" cy="336" r="1.45" fill="#22c322"/>
<circle cx="278.2" cy="322" r="1.45" fill="#22c322"/>
<circle cx="278.2" cy="323.5" r="1.45" fill="#22c322"/>
<circle cx="278.2" cy="325" r="1.45" fill="#22c322"/>
<circle cx="278.2" cy="326.5" r="1.45" fill="#22c322"/>
<circle cx="278.2" cy="328" r="1.45" fill="#22c322"/>
<circle cx="278.2" cy="329.5" r="1.45" fill="#22c322"/>
<circle cx="278.2" cy="331" r="1.45" fill="#22c322"/>
<circle cx="278.2" cy="332.5" r="1.45" fill="#22c322"/>
<circle cx="278.2" cy="334" r="1.45" fill="#22c322"/>
<circle cx="278.2" cy="335.5" r="1.45" fill="#22c322"/>
<line x1="60.6" y1="300.3" x2="60.6" y2="348.8" stroke="#333" stroke-width="1"/>
<line x1="56.1" y1="348.8" x2="60.6" y2="348.8" stroke="#333" stroke-width="1"/>
<text x="52.3" y="351.3" text-anchor="end" class="tk">0</text>
<line x1="56.1" y1="339.1" x2="60.6" y2="339.1" stroke="#333" stroke-width="1"/>
<text x="52.3" y="341.6" text-anchor="end" class="tk">5</text>
<line x1="56.1" y1="329.4" x2="60.6" y2="329.4" stroke="#333" stroke-width="1"/>
<text x="52.3" y="331.9" text-anchor="end" class="tk">10</text>
<line x1="56.1" y1="319.7" x2="60.6" y2="319.7" stroke="#333" stroke-width="1"/>
<text x="52.3" y="322.2" text-anchor="end" class="tk">15</text>
<line x1="56.1" y1="310" x2="60.6" y2="310" stroke="#333" stroke-width="1"/>
<text x="52.3" y="312.5" text-anchor="end" class="tk">20</text>
<line x1="56.1" y1="300.3" x2="60.6" y2="300.3" stroke="#333" stroke-width="1"/>
<text x="52.3" y="302.8" text-anchor="end" class="tk">25</text>
<line x1="76.9" y1="349.2" x2="76.9" y2="353.2" stroke="#333" stroke-width="1"/>
<text x="76.9" y="364.6" text-anchor="middle" class="tk">1</text>
<line x1="92.5" y1="349.2" x2="92.5" y2="353.2" stroke="#333" stroke-width="1"/>
<text x="92.5" y="364.6" text-anchor="middle" class="tk">2</text>
<line x1="106.3" y1="349.2" x2="106.3" y2="353.2" stroke="#333" stroke-width="1"/>
<text x="106.3" y="364.6" text-anchor="middle" class="tk">3</text>
<line x1="118.7" y1="349.2" x2="118.7" y2="353.2" stroke="#333" stroke-width="1"/>
<text x="118.7" y="364.6" text-anchor="middle" class="tk">4</text>
<line x1="131.65" y1="349.2" x2="131.65" y2="353.2" stroke="#333" stroke-width="1"/>
<text x="131.65" y="364.6" text-anchor="middle" class="tk">5</text>
<line x1="144.3" y1="349.2" x2="144.3" y2="353.2" stroke="#333" stroke-width="1"/>
<text x="144.3" y="364.6" text-anchor="middle" class="tk">6</text>
<line x1="157" y1="349.2" x2="157" y2="353.2" stroke="#333" stroke-width="1"/>
<text x="157" y="364.6" text-anchor="middle" class="tk">7</text>
<line x1="168.6" y1="349.2" x2="168.6" y2="353.2" stroke="#333" stroke-width="1"/>
<text x="168.6" y="364.6" text-anchor="middle" class="tk">8</text>
<line x1="180.3" y1="349.2" x2="180.3" y2="353.2" stroke="#333" stroke-width="1"/>
<text x="180.3" y="364.6" text-anchor="middle" class="tk">9</text>
<line x1="191.2" y1="349.2" x2="191.2" y2="353.2" stroke="#333" stroke-width="1"/>
<line x1="202.1" y1="349.2" x2="202.1" y2="353.2" stroke="#333" stroke-width="1"/>
<text x="202.1" y="364.6" text-anchor="middle" class="tk">11</text>
<line x1="212.5" y1="349.2" x2="212.5" y2="353.2" stroke="#333" stroke-width="1"/>
<line x1="221.9" y1="349.2" x2="221.9" y2="353.2" stroke="#333" stroke-width="1"/>
<text x="221.9" y="364.6" text-anchor="middle" class="tk">13</text>
<line x1="231" y1="349.2" x2="231" y2="353.2" stroke="#333" stroke-width="1"/>
<line x1="240" y1="349.2" x2="240" y2="353.2" stroke="#333" stroke-width="1"/>
<text x="240" y="364.6" text-anchor="middle" class="tk">15</text>
<line x1="248.6" y1="349.2" x2="248.6" y2="353.2" stroke="#333" stroke-width="1"/>
<line x1="256.6" y1="349.2" x2="256.6" y2="353.2" stroke="#333" stroke-width="1"/>
<text x="256.6" y="364.6" text-anchor="middle" class="tk">17</text>
<line x1="264.4" y1="349.2" x2="264.4" y2="353.2" stroke="#333" stroke-width="1"/>
<line x1="271" y1="349.2" x2="271" y2="353.2" stroke="#333" stroke-width="1"/>
<text x="271" y="364.6" text-anchor="middle" class="tk">19</text>
<line x1="278" y1="349.2" x2="278" y2="353.2" stroke="#333" stroke-width="1"/>
<line x1="285.2" y1="349.2" x2="285.2" y2="353.2" stroke="#333" stroke-width="1"/>
<text x="285.2" y="364.6" text-anchor="middle" class="tk">21</text>
<line x1="292.5" y1="349.2" x2="292.5" y2="353.2" stroke="#333" stroke-width="1"/>
<line x1="298.4" y1="349.2" x2="298.4" y2="353.2" stroke="#333" stroke-width="1"/>
<line x1="304.4" y1="349.2" x2="304.4" y2="353.2" stroke="#333" stroke-width="1"/>
<text x="304.4" y="364.6" text-anchor="middle" class="tk">24</text>
<line x1="310.1" y1="349.2" x2="310.1" y2="353.2" stroke="#333" stroke-width="1"/>
<line x1="315.1" y1="349.2" x2="315.1" y2="353.2" stroke="#333" stroke-width="1"/>
<line x1="320" y1="349.2" x2="320" y2="353.2" stroke="#333" stroke-width="1"/>
<text x="320" y="364.6" text-anchor="middle" class="tk">27</text>
<line x1="325" y1="349.2" x2="325" y2="353.2" stroke="#333" stroke-width="1"/>
<line x1="329.8" y1="349.2" x2="329.8" y2="353.2" stroke="#333" stroke-width="1"/>
<text x="201" y="381.8" text-anchor="middle" class="ch">Chromosome</text>
<text transform="translate(31.2,340) rotate(-90)" class="yl"><tspan x="-0.4" style="font-size:7.6px">&#8722;</tspan><tspan x="5.0">log</tspan><tspan x="15.0" class="sub" dy="1.3">10</tspan><tspan x="20.1" dy="-1.3" style="font-size:7.6px">(</tspan><tspan x="22.6" font-style="italic" style="font-size:7.6px">p</tspan><tspan x="27.6" style="font-size:7.6px">)</tspan></text>
<polygon fill="#1a1a1a" points="400.7,348.7 400.7,342.6 402.5,341 403.8,340 405.5,341.5 407.5,342 409,340.5 411,340 413,339.5 415,339 416.5,339.2 417.7,339.8 417.7,348.7"/>
<circle cx="403.8" cy="341.1" r="1.3" fill="#1a1a1a"/>
<circle cx="415" cy="340.1" r="1.3" fill="#1a1a1a"/>
<polygon fill="#999999" points="417.7,348.7 417.7,341.8 425,341.8 431.3,341.8 431.3,348.7"/>
<circle cx="425" cy="342.9" r="1.3" fill="#999999"/>
<polygon fill="#1a1a1a" points="431.3,348.7 431.3,340 433,339 435.6,337.9 437,339 440,341 442,341.8 444.9,341.8 444.9,348.7"/>
<circle cx="435.6" cy="339" r="1.3" fill="#1a1a1a"/>
<polygon fill="#999999" points="444.9,348.7 444.9,340.6 450,340.6 457.6,340.6 457.6,348.7"/>
<circle cx="450" cy="341.7" r="1.3" fill="#999999"/>
<polygon fill="#1a1a1a" points="457.6,348.7 457.6,340 460.4,338.7 462,340.5 466,340.7 468,339.5 469.7,337.7 470.2,338.5 470.2,348.7"/>
<circle cx="460.4" cy="339.8" r="1.3" fill="#1a1a1a"/>
<circle cx="469.7" cy="338.8" r="1.3" fill="#1a1a1a"/>
<polygon fill="#999999" points="470.2,348.7 470.2,339.4 476,339.4 482.8,339.4 482.8,348.7"/>
<circle cx="476" cy="340.5" r="1.3" fill="#999999"/>
<polygon fill="#1a1a1a" points="482.8,348.7 482.8,340.7 486,340 490,340 494.6,340.7 494.6,348.7"/>
<circle cx="486" cy="341.1" r="1.3" fill="#1a1a1a"/>
<circle cx="490" cy="341.1" r="1.3" fill="#1a1a1a"/>
<polygon fill="#999999" points="494.6,348.7 494.6,340.7 500,340.7 506.6,340.7 506.6,348.7"/>
<circle cx="500" cy="341.8" r="1.3" fill="#999999"/>
<polygon fill="#1a1a1a" points="506.6,348.7 506.6,340.7 512,340.7 518.1,340.7 518.1,348.7"/>
<circle cx="512" cy="341.8" r="1.3" fill="#1a1a1a"/>
<polygon fill="#999999" points="518.1,348.7 518.1,340.7 522.9,338.7 524,340.7 527.5,339 528.3,340 528.3,348.7"/>
<circle cx="522.9" cy="339.8" r="1.3" fill="#999999"/>
<circle cx="527.5" cy="340.1" r="1.3" fill="#999999"/>
<polygon fill="#1a1a1a" points="528.3,348.7 528.3,341.4 533,341 537,340.2 541,337.3 542.1,338.5 542.1,348.7"/>
<circle cx="541" cy="338.4" r="1.3" fill="#1a1a1a"/>
<polygon fill="#999999" points="542.1,348.7 542.1,341 546,341 549.1,341 549.1,348.7"/>
<circle cx="546" cy="342.1" r="1.3" fill="#999999"/>
<polygon fill="#1a1a1a" points="549.1,348.7 549.1,341 553,341 555.9,335.8 557,338 558.3,339 558.3,348.7"/>
<circle cx="555.9" cy="336.9" r="1.3" fill="#1a1a1a"/>
<polygon fill="#999999" points="558.3,348.7 558.3,338.6 563,338.6 568,338.6 568,348.7"/>
<circle cx="563" cy="339.7" r="1.3" fill="#999999"/>
<polygon fill="#1a1a1a" points="568,348.7 568,338.2 572,338.2 576.9,338.2 576.9,348.7"/>
<circle cx="572" cy="339.3" r="1.3" fill="#1a1a1a"/>
<polygon fill="#999999" points="576.9,348.7 576.9,340.2 581,340.2 585,340.2 585,348.7"/>
<circle cx="581" cy="341.3" r="1.3" fill="#999999"/>
<polygon fill="#1a1a1a" points="585,348.7 585,341.8 589,341.8 592.3,341.8 592.3,348.7"/>
<circle cx="589" cy="342.9" r="1.3" fill="#1a1a1a"/>
<polygon fill="#999999" points="592.3,348.7 592.3,338.6 596,338.6 598.8,338.6 598.8,348.7"/>
<circle cx="596" cy="339.7" r="1.3" fill="#999999"/>
<polygon fill="#1a1a1a" points="598.8,348.7 598.8,339.4 603,339.4 607.4,339.4 607.4,348.7"/>
<circle cx="603" cy="340.5" r="1.3" fill="#1a1a1a"/>
<polygon fill="#999999" points="607.4,348.7 607.4,338.6 611,338.6 614.2,338.6 614.2,348.7"/>
<circle cx="611" cy="339.7" r="1.3" fill="#999999"/>
<polygon fill="#1a1a1a" points="614.2,348.7 614.2,341.6 618.3,337.2 619.5,340 621.9,341.6 621.9,348.7"/>
<circle cx="618.3" cy="338.3" r="1.3" fill="#1a1a1a"/>
<polygon fill="#999999" points="621.9,348.7 621.9,340.8 625,340.8 627.7,340.8 627.7,348.7"/>
<circle cx="625" cy="341.9" r="1.3" fill="#999999"/>
<polygon fill="#1a1a1a" points="627.7,348.7 627.7,340.8 630,340.8 633.1,340.8 633.1,348.7"/>
<circle cx="630" cy="341.9" r="1.3" fill="#1a1a1a"/>
<polygon fill="#999999" points="633.1,348.7 633.1,339 634.3,337.7 636,339 639.6,339 639.6,348.7"/>
<circle cx="634.3" cy="338.8" r="1.3" fill="#999999"/>
<polygon fill="#1a1a1a" points="639.6,348.7 639.6,342 644.4,342 644.4,348.7"/>
<polygon fill="#999999" points="644.4,348.7 644.4,339.1 646.5,339 647.5,337.5 648.5,339 649.4,339.1 649.4,348.7"/>
<circle cx="647.5" cy="338.6" r="1.3" fill="#999999"/>
<polygon fill="#1a1a1a" points="649.4,348.7 649.4,341.2 652,341 653.8,339 653.8,348.7"/>
<polygon fill="#999999" points="653.8,348.7 653.8,338.1 659.2,338.1 659.2,348.7"/>
<polygon fill="#1a1a1a" points="659.2,348.7 659.2,339 662,339 665.4,336.7 666.8,338 666.8,348.7"/>
<circle cx="665.4" cy="337.8" r="1.3" fill="#1a1a1a"/>
<circle cx="555.9" cy="336.2" r="1.3" fill="#1a1a1a"/>
<circle cx="618.3" cy="337.4" r="1.3" fill="#1a1a1a"/>
<circle cx="665.4" cy="336.9" r="1.3" fill="#1a1a1a"/>
<line x1="394.5" y1="336.4" x2="673.9" y2="336.4" stroke="#cf7070" stroke-width="1.2" stroke-opacity="0.9"/>
<circle cx="441.5" cy="335.5" r="1.45" fill="#22c322"/>
<circle cx="475.4" cy="330.1" r="1.45" fill="#22c322"/>
<circle cx="559.5" cy="304.6" r="1.45" fill="#22c322"/>
<circle cx="559.5" cy="313.6" r="1.45" fill="#22c322"/>
<circle cx="559.5" cy="315.8" r="1.45" fill="#22c322"/>
<circle cx="559.5" cy="322" r="1.45" fill="#22c322"/>
<circle cx="559.5" cy="328" r="1.45" fill="#22c322"/>
<circle cx="559.5" cy="331.3" r="1.45" fill="#22c322"/>
<circle cx="559.5" cy="332.9" r="1.45" fill="#22c322"/>
<circle cx="559.5" cy="334.5" r="1.45" fill="#22c322"/>
<circle cx="559.5" cy="336.1" r="1.45" fill="#22c322"/>
<circle cx="566.7" cy="333.7" r="1.45" fill="#22c322"/>
<circle cx="610.6" cy="301" r="1.45" fill="#22c322"/>
<circle cx="610.2" cy="320" r="1.45" fill="#22c322"/>
<circle cx="610.2" cy="321.5" r="1.45" fill="#22c322"/>
<circle cx="610.2" cy="323" r="1.45" fill="#22c322"/>
<circle cx="610.2" cy="324.5" r="1.45" fill="#22c322"/>
<circle cx="610.2" cy="326" r="1.45" fill="#22c322"/>
<circle cx="610.2" cy="327.5" r="1.45" fill="#22c322"/>
<circle cx="610.2" cy="329" r="1.45" fill="#22c322"/>
<circle cx="610.2" cy="330.5" r="1.45" fill="#22c322"/>
<circle cx="610.2" cy="332" r="1.45" fill="#22c322"/>
<circle cx="610.2" cy="333.5" r="1.45" fill="#22c322"/>
<circle cx="610.2" cy="335" r="1.45" fill="#22c322"/>
<circle cx="610.2" cy="336.5" r="1.45" fill="#22c322"/>
<circle cx="611.2" cy="322" r="1.45" fill="#22c322"/>
<circle cx="611.2" cy="323.5" r="1.45" fill="#22c322"/>
<circle cx="611.2" cy="325" r="1.45" fill="#22c322"/>
<circle cx="611.2" cy="326.5" r="1.45" fill="#22c322"/>
<circle cx="611.2" cy="328" r="1.45" fill="#22c322"/>
<circle cx="611.2" cy="329.5" r="1.45" fill="#22c322"/>
<circle cx="611.2" cy="331" r="1.45" fill="#22c322"/>
<circle cx="611.2" cy="332.5" r="1.45" fill="#22c322"/>
<circle cx="611.2" cy="334" r="1.45" fill="#22c322"/>
<circle cx="611.2" cy="335.5" r="1.45" fill="#22c322"/>
<line x1="394" y1="307.9" x2="394" y2="349.1" stroke="#333" stroke-width="1"/>
<line x1="389.5" y1="349.1" x2="394" y2="349.1" stroke="#333" stroke-width="1"/>
<text x="385.6" y="351.6" text-anchor="end" class="tk">0</text>
<line x1="389.5" y1="338.8" x2="394" y2="338.8" stroke="#333" stroke-width="1"/>
<text x="385.6" y="341.3" text-anchor="end" class="tk">5</text>
<line x1="389.5" y1="328.5" x2="394" y2="328.5" stroke="#333" stroke-width="1"/>
<text x="385.6" y="331" text-anchor="end" class="tk">10</text>
<line x1="389.5" y1="318.2" x2="394" y2="318.2" stroke="#333" stroke-width="1"/>
<text x="385.6" y="320.7" text-anchor="end" class="tk">15</text>
<line x1="389.5" y1="307.9" x2="394" y2="307.9" stroke="#333" stroke-width="1"/>
<text x="385.6" y="310.4" text-anchor="end" class="tk">20</text>
<line x1="410.2" y1="349.2" x2="410.2" y2="353.2" stroke="#333" stroke-width="1"/>
<text x="410.2" y="364.6" text-anchor="middle" class="tk">1</text>
<line x1="425.8" y1="349.2" x2="425.8" y2="353.2" stroke="#333" stroke-width="1"/>
<text x="425.8" y="364.6" text-anchor="middle" class="tk">2</text>
<line x1="439.6" y1="349.2" x2="439.6" y2="353.2" stroke="#333" stroke-width="1"/>
<text x="439.6" y="364.6" text-anchor="middle" class="tk">3</text>
<line x1="452" y1="349.2" x2="452" y2="353.2" stroke="#333" stroke-width="1"/>
<text x="452" y="364.6" text-anchor="middle" class="tk">4</text>
<line x1="464.95" y1="349.2" x2="464.95" y2="353.2" stroke="#333" stroke-width="1"/>
<text x="464.95" y="364.6" text-anchor="middle" class="tk">5</text>
<line x1="477.6" y1="349.2" x2="477.6" y2="353.2" stroke="#333" stroke-width="1"/>
<text x="477.6" y="364.6" text-anchor="middle" class="tk">6</text>
<line x1="490.3" y1="349.2" x2="490.3" y2="353.2" stroke="#333" stroke-width="1"/>
<text x="490.3" y="364.6" text-anchor="middle" class="tk">7</text>
<line x1="501.9" y1="349.2" x2="501.9" y2="353.2" stroke="#333" stroke-width="1"/>
<text x="501.9" y="364.6" text-anchor="middle" class="tk">8</text>
<line x1="513.6" y1="349.2" x2="513.6" y2="353.2" stroke="#333" stroke-width="1"/>
<text x="513.6" y="364.6" text-anchor="middle" class="tk">9</text>
<line x1="524.5" y1="349.2" x2="524.5" y2="353.2" stroke="#333" stroke-width="1"/>
<line x1="535.4" y1="349.2" x2="535.4" y2="353.2" stroke="#333" stroke-width="1"/>
<text x="535.4" y="364.6" text-anchor="middle" class="tk">11</text>
<line x1="545.8" y1="349.2" x2="545.8" y2="353.2" stroke="#333" stroke-width="1"/>
<line x1="555.2" y1="349.2" x2="555.2" y2="353.2" stroke="#333" stroke-width="1"/>
<text x="555.2" y="364.6" text-anchor="middle" class="tk">13</text>
<line x1="564.3" y1="349.2" x2="564.3" y2="353.2" stroke="#333" stroke-width="1"/>
<line x1="573.3" y1="349.2" x2="573.3" y2="353.2" stroke="#333" stroke-width="1"/>
<text x="573.3" y="364.6" text-anchor="middle" class="tk">15</text>
<line x1="581.9" y1="349.2" x2="581.9" y2="353.2" stroke="#333" stroke-width="1"/>
<line x1="589.9" y1="349.2" x2="589.9" y2="353.2" stroke="#333" stroke-width="1"/>
<text x="589.9" y="364.6" text-anchor="middle" class="tk">17</text>
<line x1="597.7" y1="349.2" x2="597.7" y2="353.2" stroke="#333" stroke-width="1"/>
<line x1="604.3" y1="349.2" x2="604.3" y2="353.2" stroke="#333" stroke-width="1"/>
<text x="604.3" y="364.6" text-anchor="middle" class="tk">19</text>
<line x1="611.3" y1="349.2" x2="611.3" y2="353.2" stroke="#333" stroke-width="1"/>
<line x1="618.5" y1="349.2" x2="618.5" y2="353.2" stroke="#333" stroke-width="1"/>
<text x="618.5" y="364.6" text-anchor="middle" class="tk">21</text>
<line x1="625.8" y1="349.2" x2="625.8" y2="353.2" stroke="#333" stroke-width="1"/>
<line x1="631.7" y1="349.2" x2="631.7" y2="353.2" stroke="#333" stroke-width="1"/>
<line x1="637.7" y1="349.2" x2="637.7" y2="353.2" stroke="#333" stroke-width="1"/>
<text x="637.7" y="364.6" text-anchor="middle" class="tk">24</text>
<line x1="643.4" y1="349.2" x2="643.4" y2="353.2" stroke="#333" stroke-width="1"/>
<line x1="648.4" y1="349.2" x2="648.4" y2="353.2" stroke="#333" stroke-width="1"/>
<line x1="653.3" y1="349.2" x2="653.3" y2="353.2" stroke="#333" stroke-width="1"/>
<text x="653.3" y="364.6" text-anchor="middle" class="tk">27</text>
<line x1="658.3" y1="349.2" x2="658.3" y2="353.2" stroke="#333" stroke-width="1"/>
<line x1="663.1" y1="349.2" x2="663.1" y2="353.2" stroke="#333" stroke-width="1"/>
<text x="534.3" y="381.8" text-anchor="middle" class="ch">Chromosome</text>
<text transform="translate(364.8,340) rotate(-90)" class="yl"><tspan x="-0.4" style="font-size:7.6px">&#8722;</tspan><tspan x="5.0">log</tspan><tspan x="15.0" class="sub" dy="1.3">10</tspan><tspan x="20.1" dy="-1.3" style="font-size:7.6px">(</tspan><tspan x="22.6" font-style="italic" style="font-size:7.6px">p</tspan><tspan x="27.6" style="font-size:7.6px">)</tspan></text>
</svg>
</body></html>
